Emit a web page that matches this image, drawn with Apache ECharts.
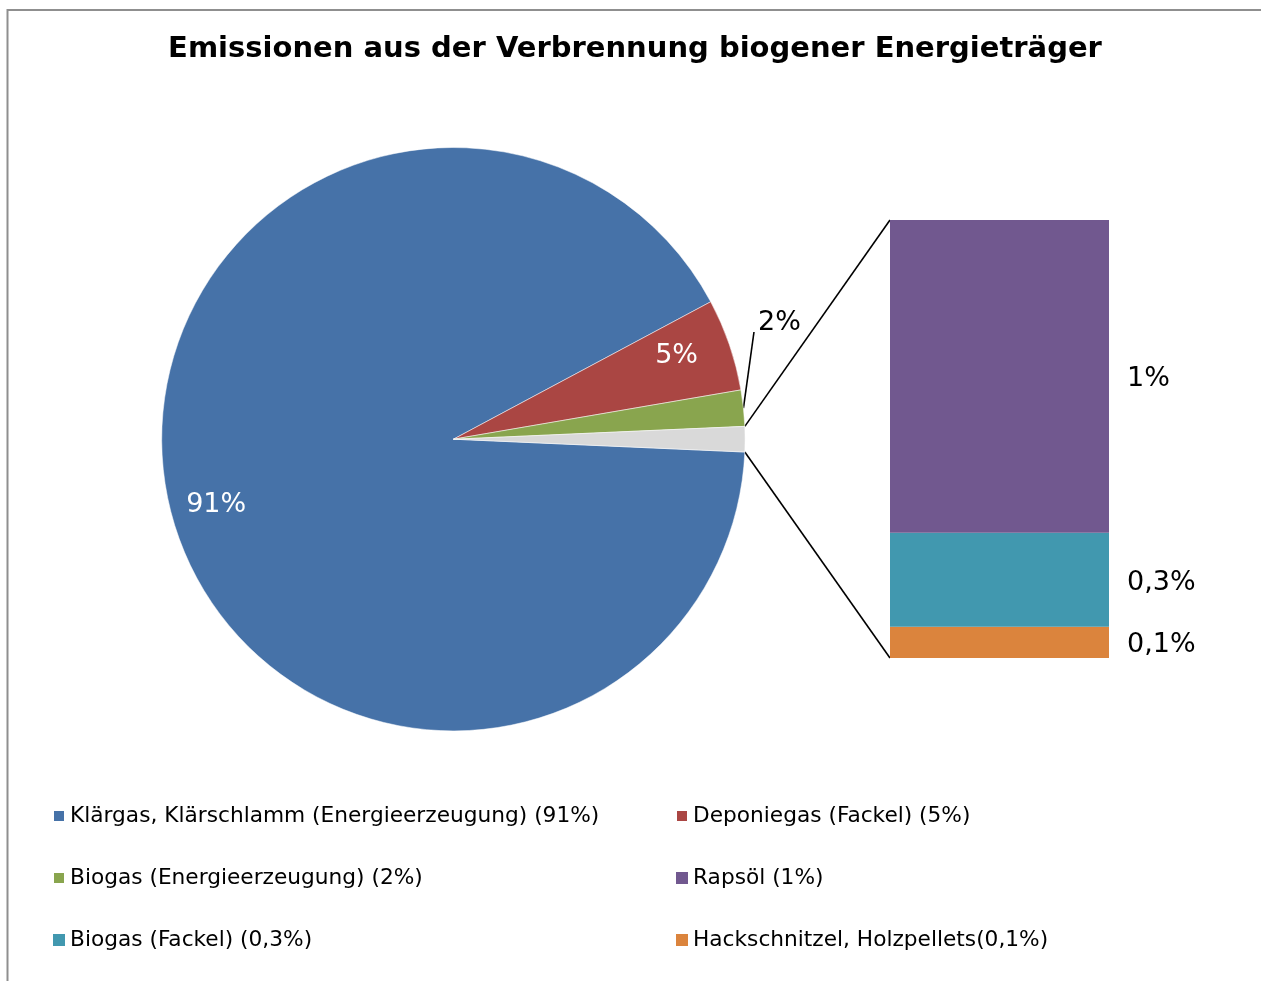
<!DOCTYPE html>
<html><head><meta charset="utf-8">
<script src="https://cdn.jsdelivr.net/npm/echarts@6.0.0/dist/echarts.min.js"></script>
<style>html,body{margin:0;padding:0;background:#fff}#c{width:1261px;height:981px}</style>
</head><body><div id="c"></div>
<script>
// ---- data ----
const chartTitle = 'Emissionen aus der Verbrennung biogener Energieträger';
const pieNames = ['Klärgas, Klärschlamm (Energieerzeugung) (91%)', 'Deponiegas (Fackel) (5%)', 'Biogas (Energieerzeugung) (2%)'];
const pieValues = [91.4, 5.1, 2.0];
const barNames = ['Rapsöl (1%)', 'Biogas (Fackel) (0,3%)', 'Hackschnitzel, Holzpellets(0,1%)'];
const barValues = [1.0, 0.3, 0.1];
const otherName = 'Sonstige';

// ---- styles ----
const pieColors = ['#4672A8', '#AA4643', '#89A54E', '#D9D9D9'];
const barColors = ['#71588F', '#4198AF', '#DB843D'];
const pieLabelOffsets = [[0, 3], [-6, 4]];
const FONT = 'DejaVu Sans, Verdana, sans-serif';
const cx = 453.4, cy = 439.2, R = 291.7;
const grid = { left: 890, top: 220, width: 219, height: 438 };

const otherSum = barValues.reduce((a, b) => a + b, 0);
const total = pieValues.reduce((a, b) => a + b, 0) + otherSum;
const halfOther = otherSum / total * 180;
const startAngle = -halfOther;

function pt(angleDeg, r) {
  const a = angleDeg * Math.PI / 180;
  return [cx + r * Math.cos(a), cy - r * Math.sin(a)];
}

const pieData = pieValues.map((v, i) => ({ name: pieNames[i], value: v, itemStyle: { color: pieColors[i] } }));
pieData.push({ name: otherName, value: otherSum, itemStyle: { color: pieColors[3] } });

const fmtPct = v => String(v).replace('.', ',') + '%';

// green slice middle angle (for outside label)
const greenMid = halfOther + pieValues[2] / total * 180;
const lineStart = pt(greenMid, R);
const lineEnd = pt(greenMid + 13.5, R * 1.094);

const barSeries = [];
for (let i = barValues.length - 1; i >= 0; i--) {
  barSeries.push({
    type: 'bar', name: barNames[i], stack: 'rest', data: [barValues[i]],
    xAxisIndex: 0, yAxisIndex: 0, barWidth: '100%',
    itemStyle: { color: barColors[i] },
    label: { show: true, position: 'right', distance: 18, offset: [0, 3], fontSize: 27, fontFamily: FONT, color: '#000',
      formatter: p => fmtPct(p.value) },
    silent: true
  });
}

const legendText = { fontFamily: FONT, fontSize: 21.7, color: '#000' };

const option = {
  backgroundColor: '#fff',
  animation: false,
  title: { text: chartTitle, left: 630, textAlign: 'center', top: 30,
    textStyle: { fontFamily: FONT, fontSize: 29, fontWeight: 'bold', color: '#000' } },
  grid: Object.assign({}, grid),
  xAxis: { type: 'category', data: ['x'], show: false },
  yAxis: { type: 'value', min: 0, max: otherSum, show: false },
  legend: [
    { left: 52, top: 805, orient: 'vertical', itemGap: 40, itemWidth: 12, itemHeight: 12, padding: 0,
      icon: 'rect', selectedMode: false,
      data: [pieNames[0], pieNames[2], barNames[1]], textStyle: legendText },
    { left: 675, top: 805, orient: 'vertical', itemGap: 40, itemWidth: 12, itemHeight: 12, padding: 0,
      icon: 'rect', selectedMode: false,
      data: [pieNames[1], barNames[0], barNames[2]], textStyle: legendText }
  ],
  series: [
    { type: 'pie', center: [cx, cy], radius: [0, R], startAngle: startAngle, clockwise: true,
      data: pieData, label: { show: false }, labelLine: { show: false }, silent: true,
      itemStyle: { borderColor: '#fff', borderWidth: 0.5 } },
    { type: 'pie', center: [cx, cy], radius: [193, R], startAngle: startAngle + 2, clockwise: true,
      data: pieData.map((d, i) => ({ name: d.name, value: d.value,
        itemStyle: { color: 'rgba(0,0,0,0)' },
        label: { show: i < 2, offset: pieLabelOffsets[i] || [0, 0] } })),
      label: { position: 'inside', fontFamily: FONT, fontSize: 27, color: '#fff',
        formatter: p => Math.round(p.value) + '%' },
      labelLine: { show: false }, silent: true, legendHoverLink: false }
  ].concat(barSeries),
  graphic: [
    { type: 'rect', shape: { x: 7.5, y: 10, width: 1400, height: 1200 },
      style: { fill: null, stroke: '#8f8f8f', lineWidth: 2 }, silent: true },
    { type: 'line', shape: { x1: pt(halfOther, R)[0], y1: pt(halfOther, R)[1], x2: grid.left, y2: grid.top },
      style: { stroke: '#000', lineWidth: 1.6 }, silent: true },
    { type: 'line', shape: { x1: pt(-halfOther, R)[0], y1: pt(-halfOther, R)[1], x2: grid.left, y2: grid.top + grid.height },
      style: { stroke: '#000', lineWidth: 1.6 }, silent: true },
    { type: 'line', shape: { x1: lineStart[0], y1: lineStart[1], x2: lineEnd[0], y2: lineEnd[1] },
      style: { stroke: '#000', lineWidth: 1.6 }, silent: true },
    { type: 'text', x: lineEnd[0] + 4, y: lineEnd[1] - 9,
      style: { text: Math.round(pieValues[2]) + '%', font: '27px ' + FONT, fill: '#000',
        textAlign: 'left', textVerticalAlign: 'middle' }, silent: true }
  ]
};

const chart = echarts.init(document.getElementById('c'), null, { renderer: 'canvas' });
chart.setOption(option);
</script>
</body></html>
